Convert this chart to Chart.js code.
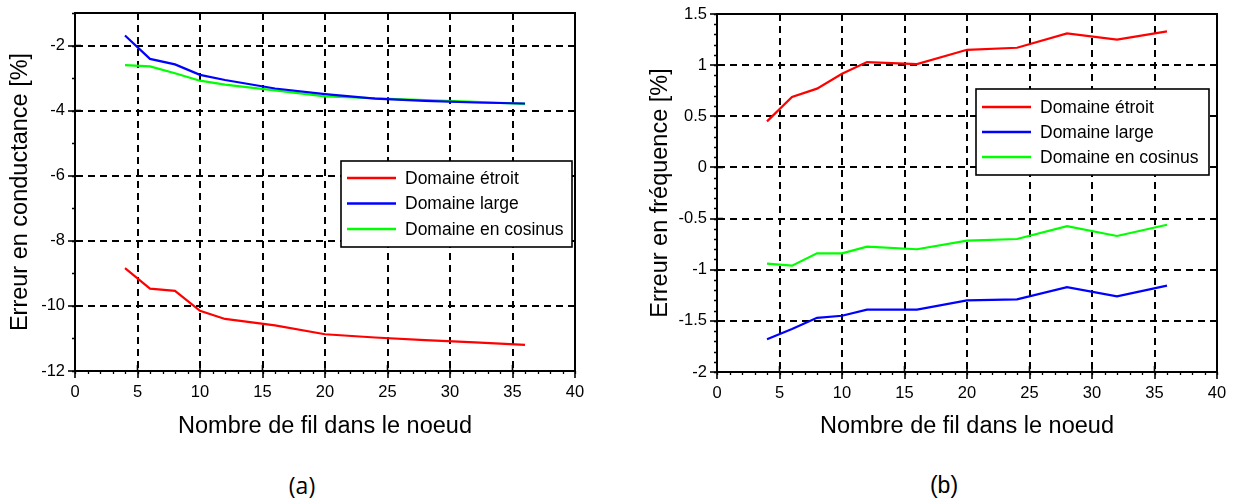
<!DOCTYPE html>
<html>
<head>
<meta charset="utf-8">
<script src="https://cdn.jsdelivr.net/npm/chart.js@4"></script>
<style>
  html, body { margin: 0; padding: 0; background: #fff; width: 1233px; height: 503px; overflow: hidden; }
  canvas { position: absolute; top: 0; }
  #ca { left: 0; }
  #cb { left: 616px; }
  .cap { position: absolute; top: 472px; font-size: 23px; color: #000; transform: translateX(-50%); white-space: nowrap; }
  #capA { left: 302px; font-family: "Open Sans", sans-serif; top: 469px; }
  #capB { left: 944px; font-family: "Liberation Sans", Arial, sans-serif; }
</style>
</head>
<body>
<canvas id="ca" width="616" height="460"></canvas>
<canvas id="cb" width="617" height="460"></canvas>
<div class="cap" id="capA">(a)</div>
<div class="cap" id="capB">(b)</div>
<script>
// ---------- data ----------
const fils = [4, 6, 8, 10, 12, 16, 20, 24, 28, 32, 36];
const seriesNames = ["Domaine étroit", "Domaine large", "Domaine en cosinus"];
const seriesColors = ["#ff0000", "#0000ff", "#00ff00"];

// (a) Erreur en conductance [%]
const condEtroit  = [-8.84, -9.47, -9.54, -10.15, -10.40, -10.60, -10.87, -10.97, -11.05, -11.12, -11.20];
const condLarge   = [-1.69, -2.41, -2.58, -2.90, -3.06, -3.32, -3.49, -3.63, -3.70, -3.75, -3.78];
const condCosinus = [-2.60, -2.64, -2.85, -3.08, -3.20, -3.38, -3.56, -3.62, -3.68, -3.73, -3.79];

// (b) Erreur en fréquence [%]
const freqEtroit  = [0.45, 0.69, 0.77, 0.915, 1.03, 1.01, 1.15, 1.17, 1.31, 1.25, 1.33];
const freqLarge   = [-1.68, -1.58, -1.47, -1.45, -1.39, -1.39, -1.30, -1.29, -1.17, -1.26, -1.155];
const freqCosinus = [-0.94, -0.96, -0.84, -0.84, -0.775, -0.80, -0.715, -0.70, -0.575, -0.67, -0.56];

// tick labels
const xTicks = [0, 5, 10, 15, 20, 25, 30, 35, 40];
const yTicksA = [-12, -10, -8, -6, -4, -2];
const yTicksB = [-2, -1.5, -1, -0.5, 0, 0.5, 1, 1.5];

const xTitle = "Nombre de fil dans le noeud";
const yTitleA = "Erreur en conductance [%]";
const yTitleB = "Erreur en fréquence [%]";

// ---------- rendering ----------
const FONT = "'Liberation Sans', Arial, sans-serif";
Chart.defaults.font.family = FONT;
Chart.defaults.color = "#000";

function makeDatasets(values) {
  return values.map((vals, i) => ({
    label: seriesNames[i],
    data: vals.map((v, k) => ({ x: fils[k], y: v })),
    borderColor: seriesColors[i],
    backgroundColor: seriesColors[i],
    borderWidth: 2.2,
    pointRadius: 0,
    tension: 0,
    fill: false
  }));
}

const framePlugin = {
  id: 'frame',
  afterDatasetsDraw(chart, args, opts) {
    const { ctx, chartArea: a, scales } = chart;
    ctx.save();
    ctx.strokeStyle = '#000';
    ctx.lineWidth = 1.3;
    const xs = scales.x, ys = scales.y;
    ctx.beginPath();
    for (let v = xs.min; v <= xs.max + 1e-9; v += opts.xMinor) {
      const px = Math.round(xs.getPixelForValue(v)) + 0.5;
      ctx.moveTo(px, a.bottom); ctx.lineTo(px, a.bottom + 3);
    }
    for (let v = ys.min; v <= ys.max + 1e-9; v += opts.yMinor) {
      const py = Math.round(ys.getPixelForValue(v)) + 0.5;
      ctx.moveTo(a.left, py); ctx.lineTo(a.left - 3, py);
    }
    ctx.stroke();
    ctx.lineWidth = 1.6;
    ctx.beginPath();
    xs.ticks.forEach(t => {
      const px = xs.getPixelForValue(t.value);
      ctx.moveTo(px, a.bottom); ctx.lineTo(px, a.bottom - 6);
    });
    ys.ticks.forEach(t => {
      const py = ys.getPixelForValue(t.value);
      ctx.moveTo(a.left, py); ctx.lineTo(a.left + 6, py);
    });
    ctx.stroke();
    ctx.lineWidth = 2;
    ctx.strokeRect(a.left, a.top, a.right - a.left, a.bottom - a.top);

    // legend box
    const L = opts.legend;
    const bx = a.right - L.right - L.w, by = a.top + L.top;
    ctx.fillStyle = '#fff';
    ctx.fillRect(bx, by, L.w, L.h);
    ctx.lineWidth = 1.6;
    ctx.strokeStyle = '#000';
    ctx.strokeRect(bx, by, L.w, L.h);
    ctx.font = "17.5px " + FONT;
    ctx.textBaseline = 'middle';
    ctx.textAlign = 'left';
    chart.data.datasets.forEach((ds, i) => {
      const yy = by + L.row0 + i * L.rowGap;
      ctx.strokeStyle = ds.borderColor;
      ctx.lineWidth = 2.5;
      ctx.beginPath();
      ctx.moveTo(bx + 6, yy); ctx.lineTo(bx + 55, yy);
      ctx.stroke();
      ctx.fillStyle = '#000';
      ctx.fillText(ds.label, bx + 64, yy + 1);
    });
    ctx.restore();
  }
};

function makeChart(id, values, yMin, yMax, yTicks, yTitle, yMinor, pad, yWidth, xHeight, yTitlePad, legend) {
  return new Chart(document.getElementById(id), {
    type: 'line',
    data: { datasets: makeDatasets(values) },
    plugins: [framePlugin],
    options: {
      responsive: false,
      animation: false,
      devicePixelRatio: 1,
      layout: { padding: pad },
      plugins: {
        legend: { display: false },
        tooltip: { enabled: false },
        frame: { xMinor: 1, yMinor: yMinor, legend: legend }
      },
      scales: {
        x: {
          type: 'linear', min: 0, max: 40,
          afterBuildTicks: s => { s.ticks = xTicks.map(v => ({ value: v })); },
          afterFit: s => { s.height = xHeight; },
          ticks: { font: { size: 16.5 }, color: '#000', padding: 5, maxRotation: 0, callback: v => String(v) },
          grid: { color: '#000', lineWidth: 2, tickLength: 7, tickColor: '#000', tickWidth: 1.6, tickBorderDash: [] },
          border: { display: true, color: '#000', width: 2, dash: [7, 5] },
          title: { display: true, text: xTitle, font: { size: 23.5 }, color: '#000', padding: { top: 0, bottom: 19 } }
        },
        y: {
          type: 'linear', min: yMin, max: yMax,
          afterBuildTicks: s => { s.ticks = yTicks.map(v => ({ value: v })); },
          afterFit: s => { s.width = yWidth; },
          ticks: { font: { size: 16.5 }, color: '#000', padding: 3, callback: v => String(v) },
          grid: { color: '#000', lineWidth: 2, tickLength: 7, tickColor: '#000', tickWidth: 1.6, tickBorderDash: [] },
          border: { display: true, color: '#000', width: 2, dash: [7, 5] },
          title: { display: true, text: yTitle, font: { size: 23.5 }, color: '#000', padding: { top: yTitlePad, bottom: 0 } }
        }
      }
    }
  });
}

makeChart('ca', [condEtroit, condLarge, condCosinus], -12, -1, yTicksA, yTitleA, 1,
  { top: 13, right: 41, left: 0, bottom: 0 }, 75, 89, 6,
  { right: 3, top: 148, w: 231, h: 86, row0: 17, rowGap: 25.5 });

makeChart('cb', [freqEtroit, freqLarge, freqCosinus], -2, 1.5, yTicksB, yTitleB, 0.1,
  { top: 14, right: 16, left: 0, bottom: 0 }, 101, 88, 30,
  { right: 8, top: 75, w: 233, h: 86, row0: 18, rowGap: 25 });
</script>
</body>
</html>
